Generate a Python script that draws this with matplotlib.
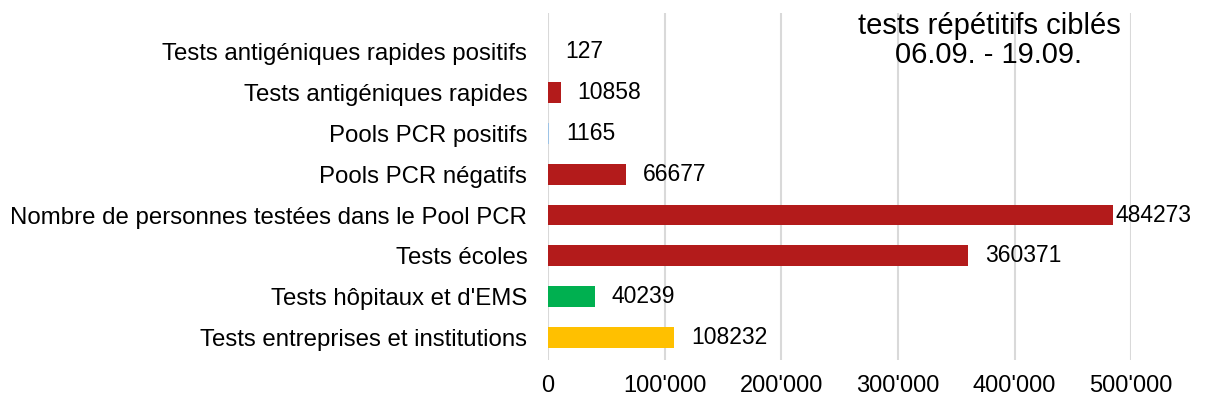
import matplotlib.pyplot as plt
from matplotlib.ticker import FuncFormatter

plt.rcParams['font.family'] = ['Liberation Sans', 'DejaVu Sans']

# categories from top to bottom
categories = [
    'Tests antigéniques rapides positifs',
    'Tests antigéniques rapides',
    'Pools PCR positifs',
    'Pools PCR négatifs',
    'Nombre de personnes testées dans le Pool PCR',
    'Tests écoles',
    "Tests hôpitaux et d'EMS",
    'Tests entreprises et institutions',
]
values = [127, 10858, 1165, 66677, 484273, 360371, 40239, 108232]
colors = ['#9dc3e6', '#b31b1b', '#9dc3e6', '#b31b1b', '#b31b1b', '#b31b1b', '#00b050', '#ffc000']

fig = plt.figure(figsize=(12.06, 4.03), dpi=100)
ax = fig.add_axes([0.4545, 0.1067, 0.4834, 0.861])

y = list(range(len(categories)))[::-1]
ax.barh(y, values, height=0.51, color=colors, zorder=3)

xmax = 500000
for yi, v in zip(y, values):
    # labels near the right edge are pulled in (like the original)
    off = 2 if v > 0.95 * xmax else 12
    ax.annotate(str(v), (v, yi), xytext=(off, 0), textcoords='offset points',
                va='center', ha='left', fontsize=16.5, color='black', zorder=4)

ax.set_yticks(y)
ax.set_yticklabels(categories, fontsize=17.3)
ax.set_ylim(-0.55, 7.95)
ax.set_xlim(0, xmax)
ax.set_xticks([0, 100000, 200000, 300000, 400000, 500000])
ax.xaxis.set_major_formatter(FuncFormatter(lambda x, p: f"{int(x):,}".replace(',', "'")))
ax.tick_params(axis='x', labelsize=17, length=0, pad=11)
ax.tick_params(axis='y', length=0, pad=15)
ax.grid(axis='x', color='#d9d9d9', linewidth=1.5, zorder=0)
for s in ax.spines.values():
    s.set_visible(False)

fig.text(0.820, 0.90, 'tests répétitifs ciblés\n06.09. - 19.09.', ha='center', va='center',
         fontsize=21, linespacing=1.07)

fig.savefig('out.png', dpi=100)
